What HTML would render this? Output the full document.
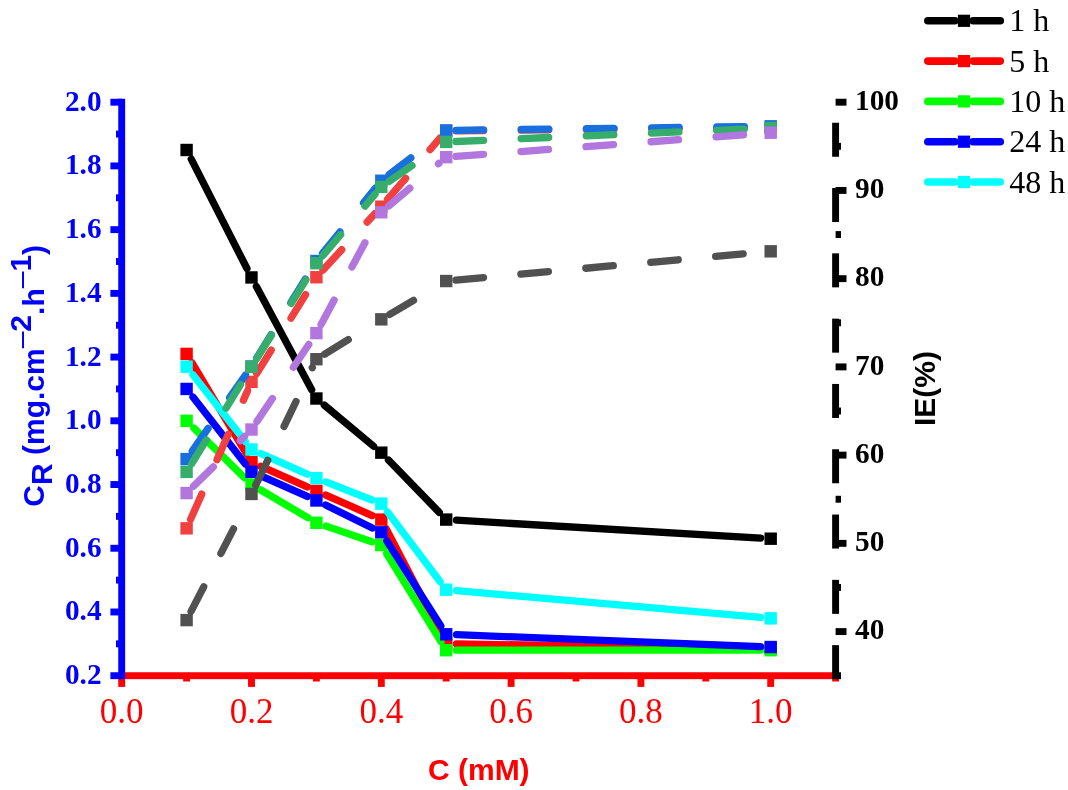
<!DOCTYPE html>
<html><head><meta charset="utf-8"><title>Chart</title>
<style>html,body{margin:0;padding:0;background:#fff;}svg{display:block;will-change:transform;}</style></head>
<body><svg width="1068" height="790" viewBox="0 0 1068 790">
<rect width="1068" height="790" fill="#ffffff"/>
<line x1="191.27" y1="159.17" x2="246.96" y2="268.53" stroke="#000000" stroke-width="7.3" stroke-linecap="round"/>
<line x1="256.37" y1="286.51" x2="311.68" y2="389.69" stroke="#000000" stroke-width="7.3" stroke-linecap="round"/>
<line x1="324.31" y1="405.11" x2="373.62" y2="446.26" stroke="#000000" stroke-width="7.3" stroke-linecap="round"/>
<line x1="388.47" y1="460.07" x2="439.24" y2="512.4" stroke="#000000" stroke-width="7.3" stroke-linecap="round"/>
<line x1="456.48" y1="520.19" x2="760.72" y2="538.11" stroke="#000000" stroke-width="7.3" stroke-linecap="round"/>
<rect x="180.4" y="143.79" width="12.4" height="12.4" fill="#000000"/>
<rect x="245.3" y="271.24" width="12.4" height="12.4" fill="#000000"/>
<rect x="310.2" y="392.31" width="12.4" height="12.4" fill="#000000"/>
<rect x="375.1" y="446.47" width="12.4" height="12.4" fill="#000000"/>
<rect x="440" y="513.38" width="12.4" height="12.4" fill="#000000"/>
<rect x="764.5" y="532.5" width="12.4" height="12.4" fill="#000000"/>
<line x1="191.89" y1="362.74" x2="246.36" y2="453.65" stroke="#ff0000" stroke-width="7.3" stroke-linecap="round"/>
<line x1="260.92" y1="466.39" x2="307.25" y2="486.86" stroke="#ff0000" stroke-width="7.3" stroke-linecap="round"/>
<line x1="325.82" y1="495.07" x2="372.15" y2="515.54" stroke="#ff0000" stroke-width="7.3" stroke-linecap="round"/>
<line x1="386.07" y1="528.71" x2="441.57" y2="634.98" stroke="#ff0000" stroke-width="7.3" stroke-linecap="round"/>
<line x1="456.5" y1="643.99" x2="760.7" y2="648.47" stroke="#ff0000" stroke-width="7.3" stroke-linecap="round"/>
<rect x="180.4" y="347.7" width="12.4" height="12.4" fill="#ff0000"/>
<rect x="245.3" y="456.03" width="12.4" height="12.4" fill="#ff0000"/>
<rect x="310.2" y="484.71" width="12.4" height="12.4" fill="#ff0000"/>
<rect x="375.1" y="513.38" width="12.4" height="12.4" fill="#ff0000"/>
<rect x="440" y="637.64" width="12.4" height="12.4" fill="#ff0000"/>
<rect x="764.5" y="642.42" width="12.4" height="12.4" fill="#ff0000"/>
<line x1="193.95" y1="428.03" x2="244.36" y2="477.53" stroke="#00ff00" stroke-width="7.3" stroke-linecap="round"/>
<line x1="260.37" y1="489.76" x2="307.78" y2="517.69" stroke="#00ff00" stroke-width="7.3" stroke-linecap="round"/>
<line x1="326.14" y1="526.11" x2="371.84" y2="541.82" stroke="#00ff00" stroke-width="7.3" stroke-linecap="round"/>
<line x1="386.71" y1="553.83" x2="440.95" y2="641.7" stroke="#00ff00" stroke-width="7.3" stroke-linecap="round"/>
<line x1="456.5" y1="650.21" x2="760.7" y2="650.21" stroke="#00ff00" stroke-width="7.3" stroke-linecap="round"/>
<rect x="180.4" y="414.61" width="12.4" height="12.4" fill="#00ff00"/>
<rect x="245.3" y="478.33" width="12.4" height="12.4" fill="#00ff00"/>
<rect x="310.2" y="516.57" width="12.4" height="12.4" fill="#00ff00"/>
<rect x="375.1" y="538.87" width="12.4" height="12.4" fill="#00ff00"/>
<rect x="440" y="644.01" width="12.4" height="12.4" fill="#00ff00"/>
<rect x="764.5" y="644.01" width="12.4" height="12.4" fill="#00ff00"/>
<line x1="192.95" y1="397.06" x2="245.33" y2="463.92" stroke="#0000ff" stroke-width="7.3" stroke-linecap="round"/>
<line x1="260.92" y1="475.95" x2="307.25" y2="496.42" stroke="#0000ff" stroke-width="7.3" stroke-linecap="round"/>
<line x1="325.65" y1="505" x2="372.32" y2="527.92" stroke="#0000ff" stroke-width="7.3" stroke-linecap="round"/>
<line x1="386.83" y1="541.01" x2="440.83" y2="625.84" stroke="#0000ff" stroke-width="7.3" stroke-linecap="round"/>
<line x1="456.49" y1="634.68" x2="760.71" y2="646.63" stroke="#0000ff" stroke-width="7.3" stroke-linecap="round"/>
<rect x="180.4" y="382.75" width="12.4" height="12.4" fill="#0000ff"/>
<rect x="245.3" y="465.59" width="12.4" height="12.4" fill="#0000ff"/>
<rect x="310.2" y="494.26" width="12.4" height="12.4" fill="#0000ff"/>
<rect x="375.1" y="526.12" width="12.4" height="12.4" fill="#0000ff"/>
<rect x="440" y="628.08" width="12.4" height="12.4" fill="#0000ff"/>
<rect x="764.5" y="640.83" width="12.4" height="12.4" fill="#0000ff"/>
<line x1="192.95" y1="374.76" x2="245.33" y2="441.61" stroke="#00ffff" stroke-width="7.3" stroke-linecap="round"/>
<line x1="260.92" y1="453.65" x2="307.25" y2="474.12" stroke="#00ffff" stroke-width="7.3" stroke-linecap="round"/>
<line x1="325.99" y1="481.93" x2="371.99" y2="499.99" stroke="#00ffff" stroke-width="7.3" stroke-linecap="round"/>
<line x1="387.5" y1="511.87" x2="440.18" y2="581.69" stroke="#00ffff" stroke-width="7.3" stroke-linecap="round"/>
<line x1="456.46" y1="590.58" x2="760.74" y2="617.47" stroke="#00ffff" stroke-width="7.3" stroke-linecap="round"/>
<rect x="180.4" y="360.45" width="12.4" height="12.4" fill="#00ffff"/>
<rect x="245.3" y="443.29" width="12.4" height="12.4" fill="#00ffff"/>
<rect x="310.2" y="471.96" width="12.4" height="12.4" fill="#00ffff"/>
<rect x="375.1" y="497.45" width="12.4" height="12.4" fill="#00ffff"/>
<rect x="440" y="583.48" width="12.4" height="12.4" fill="#00ffff"/>
<rect x="764.5" y="612.15" width="12.4" height="12.4" fill="#00ffff"/>
<line x1="191.08" y1="611.4" x2="203.71" y2="586.86" stroke="#515151" stroke-width="7.3" stroke-linecap="round"/>
<line x1="220.91" y1="553.42" x2="233.53" y2="528.88" stroke="#515151" stroke-width="7.3" stroke-linecap="round"/>
<line x1="255.75" y1="485.12" x2="267.73" y2="460.25" stroke="#515151" stroke-width="7.3" stroke-linecap="round"/>
<line x1="284.05" y1="426.38" x2="296.03" y2="401.51" stroke="#515151" stroke-width="7.3" stroke-linecap="round"/>
<line x1="312.34" y1="367.64" x2="312.35" y2="367.63" stroke="#515151" stroke-width="7.3" stroke-linecap="round"/>
<line x1="324.75" y1="354.09" x2="348.26" y2="339.64" stroke="#515151" stroke-width="7.3" stroke-linecap="round"/>
<line x1="389.74" y1="314.36" x2="413.51" y2="300.33" stroke="#515151" stroke-width="7.3" stroke-linecap="round"/>
<line x1="455.96" y1="280.15" x2="483.44" y2="277.63" stroke="#515151" stroke-width="7.3" stroke-linecap="round"/>
<line x1="520.89" y1="274.2" x2="548.37" y2="271.68" stroke="#515151" stroke-width="7.3" stroke-linecap="round"/>
<line x1="585.82" y1="268.25" x2="613.3" y2="265.73" stroke="#515151" stroke-width="7.3" stroke-linecap="round"/>
<line x1="650.74" y1="262.3" x2="678.23" y2="259.78" stroke="#515151" stroke-width="7.3" stroke-linecap="round"/>
<line x1="715.67" y1="256.35" x2="743.16" y2="253.83" stroke="#515151" stroke-width="7.3" stroke-linecap="round"/>
<rect x="180.4" y="613.91" width="12.4" height="12.4" fill="#515151"/>
<rect x="245.3" y="487.74" width="12.4" height="12.4" fill="#515151"/>
<rect x="310.2" y="353.02" width="12.4" height="12.4" fill="#515151"/>
<rect x="375.1" y="313.14" width="12.4" height="12.4" fill="#515151"/>
<rect x="440" y="274.84" width="12.4" height="12.4" fill="#515151"/>
<rect x="764.5" y="245.11" width="12.4" height="12.4" fill="#515151"/>
<line x1="190.57" y1="519.39" x2="201.75" y2="494.16" stroke="#F14040" stroke-width="7.3" stroke-linecap="round"/>
<line x1="216.98" y1="459.78" x2="228.17" y2="434.55" stroke="#F14040" stroke-width="7.3" stroke-linecap="round"/>
<line x1="243.4" y1="400.18" x2="247.61" y2="390.67" stroke="#F14040" stroke-width="7.3" stroke-linecap="round"/>
<line x1="256.67" y1="373.56" x2="271.21" y2="350.11" stroke="#F14040" stroke-width="7.3" stroke-linecap="round"/>
<line x1="291.03" y1="318.15" x2="305.58" y2="294.7" stroke="#F14040" stroke-width="7.3" stroke-linecap="round"/>
<line x1="323.03" y1="270.04" x2="341.71" y2="249.72" stroke="#F14040" stroke-width="7.3" stroke-linecap="round"/>
<line x1="367.16" y1="222.04" x2="374.8" y2="213.73" stroke="#F14040" stroke-width="7.3" stroke-linecap="round"/>
<line x1="387.67" y1="199.22" x2="405.63" y2="178.26" stroke="#F14040" stroke-width="7.3" stroke-linecap="round"/>
<line x1="430.08" y1="149.7" x2="439.96" y2="138.17" stroke="#F14040" stroke-width="7.3" stroke-linecap="round"/>
<line x1="456" y1="130.78" x2="483.6" y2="130.5" stroke="#F14040" stroke-width="7.3" stroke-linecap="round"/>
<line x1="521.2" y1="130.12" x2="548.79" y2="129.84" stroke="#F14040" stroke-width="7.3" stroke-linecap="round"/>
<line x1="586.39" y1="129.46" x2="613.99" y2="129.19" stroke="#F14040" stroke-width="7.3" stroke-linecap="round"/>
<line x1="651.59" y1="128.81" x2="679.19" y2="128.53" stroke="#F14040" stroke-width="7.3" stroke-linecap="round"/>
<line x1="716.79" y1="128.15" x2="744.38" y2="127.88" stroke="#F14040" stroke-width="7.3" stroke-linecap="round"/>
<rect x="180.4" y="522.15" width="12.4" height="12.4" fill="#F14040"/>
<rect x="245.3" y="375.69" width="12.4" height="12.4" fill="#F14040"/>
<rect x="310.2" y="271.05" width="12.4" height="12.4" fill="#F14040"/>
<rect x="375.1" y="200.47" width="12.4" height="12.4" fill="#F14040"/>
<rect x="440" y="124.68" width="12.4" height="12.4" fill="#F14040"/>
<rect x="764.5" y="121.41" width="12.4" height="12.4" fill="#F14040"/>
<line x1="192.22" y1="451.07" x2="208.06" y2="428.46" stroke="#1A6FDF" stroke-width="7.3" stroke-linecap="round"/>
<line x1="229.63" y1="397.67" x2="245.47" y2="375.06" stroke="#1A6FDF" stroke-width="7.3" stroke-linecap="round"/>
<line x1="256.64" y1="358.11" x2="271.1" y2="334.6" stroke="#1A6FDF" stroke-width="7.3" stroke-linecap="round"/>
<line x1="290.81" y1="302.58" x2="305.28" y2="279.08" stroke="#1A6FDF" stroke-width="7.3" stroke-linecap="round"/>
<line x1="322.56" y1="253.39" x2="339.91" y2="231.93" stroke="#1A6FDF" stroke-width="7.3" stroke-linecap="round"/>
<line x1="363.55" y1="202.69" x2="375.27" y2="188.19" stroke="#1A6FDF" stroke-width="7.3" stroke-linecap="round"/>
<line x1="389.05" y1="174.72" x2="410.86" y2="157.82" stroke="#1A6FDF" stroke-width="7.3" stroke-linecap="round"/>
<line x1="456" y1="130.31" x2="483.6" y2="129.96" stroke="#1A6FDF" stroke-width="7.3" stroke-linecap="round"/>
<line x1="521.19" y1="129.48" x2="548.79" y2="129.12" stroke="#1A6FDF" stroke-width="7.3" stroke-linecap="round"/>
<line x1="586.39" y1="128.64" x2="613.99" y2="128.29" stroke="#1A6FDF" stroke-width="7.3" stroke-linecap="round"/>
<line x1="651.58" y1="127.81" x2="679.18" y2="127.46" stroke="#1A6FDF" stroke-width="7.3" stroke-linecap="round"/>
<line x1="716.78" y1="126.98" x2="744.38" y2="126.62" stroke="#1A6FDF" stroke-width="7.3" stroke-linecap="round"/>
<rect x="180.4" y="452.89" width="12.4" height="12.4" fill="#1A6FDF"/>
<rect x="245.3" y="360.25" width="12.4" height="12.4" fill="#1A6FDF"/>
<rect x="310.2" y="254.82" width="12.4" height="12.4" fill="#1A6FDF"/>
<rect x="375.1" y="174.53" width="12.4" height="12.4" fill="#1A6FDF"/>
<rect x="440" y="124.23" width="12.4" height="12.4" fill="#1A6FDF"/>
<rect x="764.5" y="120.09" width="12.4" height="12.4" fill="#1A6FDF"/>
<line x1="191.75" y1="463.55" x2="206.26" y2="440.07" stroke="#37AD6B" stroke-width="7.3" stroke-linecap="round"/>
<line x1="226.03" y1="408.09" x2="240.55" y2="384.61" stroke="#37AD6B" stroke-width="7.3" stroke-linecap="round"/>
<line x1="256.7" y1="358.59" x2="271.35" y2="335.19" stroke="#37AD6B" stroke-width="7.3" stroke-linecap="round"/>
<line x1="291.3" y1="303.32" x2="305.94" y2="279.93" stroke="#37AD6B" stroke-width="7.3" stroke-linecap="round"/>
<line x1="322.75" y1="255.76" x2="340.63" y2="234.73" stroke="#37AD6B" stroke-width="7.3" stroke-linecap="round"/>
<line x1="364.99" y1="206.09" x2="375.08" y2="194.21" stroke="#37AD6B" stroke-width="7.3" stroke-linecap="round"/>
<line x1="389.35" y1="181.32" x2="412.04" y2="165.59" stroke="#37AD6B" stroke-width="7.3" stroke-linecap="round"/>
<line x1="455.99" y1="141.48" x2="483.57" y2="140.3" stroke="#37AD6B" stroke-width="7.3" stroke-linecap="round"/>
<line x1="521.13" y1="138.68" x2="548.71" y2="137.5" stroke="#37AD6B" stroke-width="7.3" stroke-linecap="round"/>
<line x1="586.27" y1="135.89" x2="613.85" y2="134.7" stroke="#37AD6B" stroke-width="7.3" stroke-linecap="round"/>
<line x1="651.41" y1="133.09" x2="678.99" y2="131.9" stroke="#37AD6B" stroke-width="7.3" stroke-linecap="round"/>
<line x1="716.55" y1="130.29" x2="744.13" y2="129.11" stroke="#37AD6B" stroke-width="7.3" stroke-linecap="round"/>
<rect x="180.4" y="465.69" width="12.4" height="12.4" fill="#37AD6B"/>
<rect x="245.3" y="360.69" width="12.4" height="12.4" fill="#37AD6B"/>
<rect x="310.2" y="257.02" width="12.4" height="12.4" fill="#37AD6B"/>
<rect x="375.1" y="180.7" width="12.4" height="12.4" fill="#37AD6B"/>
<rect x="440" y="135.7" width="12.4" height="12.4" fill="#37AD6B"/>
<rect x="764.5" y="121.76" width="12.4" height="12.4" fill="#37AD6B"/>
<line x1="193.6" y1="486.21" x2="213.33" y2="466.9" stroke="#B177DE" stroke-width="7.3" stroke-linecap="round"/>
<line x1="240.2" y1="440.6" x2="244.64" y2="436.25" stroke="#B177DE" stroke-width="7.3" stroke-linecap="round"/>
<line x1="256.97" y1="421.41" x2="272.38" y2="398.51" stroke="#B177DE" stroke-width="7.3" stroke-linecap="round"/>
<line x1="293.37" y1="367.31" x2="308.78" y2="344.42" stroke="#B177DE" stroke-width="7.3" stroke-linecap="round"/>
<line x1="321.04" y1="324.47" x2="334.1" y2="300.15" stroke="#B177DE" stroke-width="7.3" stroke-linecap="round"/>
<line x1="351.9" y1="267.03" x2="364.96" y2="242.72" stroke="#B177DE" stroke-width="7.3" stroke-linecap="round"/>
<line x1="388.77" y1="205.97" x2="409.8" y2="188.1" stroke="#B177DE" stroke-width="7.3" stroke-linecap="round"/>
<line x1="438.45" y1="163.75" x2="438.88" y2="163.38" stroke="#B177DE" stroke-width="7.3" stroke-linecap="round"/>
<line x1="455.97" y1="156.43" x2="483.49" y2="154.36" stroke="#B177DE" stroke-width="7.3" stroke-linecap="round"/>
<line x1="520.99" y1="151.54" x2="548.51" y2="149.46" stroke="#B177DE" stroke-width="7.3" stroke-linecap="round"/>
<line x1="586" y1="146.64" x2="613.53" y2="144.57" stroke="#B177DE" stroke-width="7.3" stroke-linecap="round"/>
<line x1="651.02" y1="141.74" x2="678.54" y2="139.67" stroke="#B177DE" stroke-width="7.3" stroke-linecap="round"/>
<line x1="716.04" y1="136.84" x2="743.56" y2="134.77" stroke="#B177DE" stroke-width="7.3" stroke-linecap="round"/>
<rect x="180.4" y="486.86" width="12.4" height="12.4" fill="#B177DE"/>
<rect x="245.3" y="423.34" width="12.4" height="12.4" fill="#B177DE"/>
<rect x="310.2" y="326.9" width="12.4" height="12.4" fill="#B177DE"/>
<rect x="375.1" y="206.11" width="12.4" height="12.4" fill="#B177DE"/>
<rect x="440" y="150.97" width="12.4" height="12.4" fill="#B177DE"/>
<rect x="764.5" y="126.53" width="12.4" height="12.4" fill="#B177DE"/>
<rect x="121.7" y="672.25" width="717.35" height="6.9" fill="#ff0000"/>
<rect x="118.25" y="675.7" width="6.9" height="11.2" fill="#ff0000"/>
<rect x="183.15" y="675.7" width="6.9" height="5.8" fill="#ff0000"/>
<rect x="248.05" y="675.7" width="6.9" height="11.2" fill="#ff0000"/>
<rect x="312.95" y="675.7" width="6.9" height="5.8" fill="#ff0000"/>
<rect x="377.85" y="675.7" width="6.9" height="11.2" fill="#ff0000"/>
<rect x="442.75" y="675.7" width="6.9" height="5.8" fill="#ff0000"/>
<rect x="507.65" y="675.7" width="6.9" height="11.2" fill="#ff0000"/>
<rect x="572.55" y="675.7" width="6.9" height="5.8" fill="#ff0000"/>
<rect x="637.45" y="675.7" width="6.9" height="11.2" fill="#ff0000"/>
<rect x="702.35" y="675.7" width="6.9" height="5.8" fill="#ff0000"/>
<rect x="767.25" y="675.7" width="6.9" height="11.2" fill="#ff0000"/>
<rect x="832.15" y="675.7" width="6.9" height="5.8" fill="#ff0000"/>
<rect x="118.25" y="98.75" width="6.9" height="580.4" fill="#0000ff"/>
<rect x="110.4" y="672.25" width="11.3" height="6.9" fill="#0000ff"/>
<rect x="116" y="640.39" width="5.7" height="6.9" fill="#0000ff"/>
<rect x="110.4" y="608.53" width="11.3" height="6.9" fill="#0000ff"/>
<rect x="116" y="576.67" width="5.7" height="6.9" fill="#0000ff"/>
<rect x="110.4" y="544.81" width="11.3" height="6.9" fill="#0000ff"/>
<rect x="116" y="512.94" width="5.7" height="6.9" fill="#0000ff"/>
<rect x="110.4" y="481.08" width="11.3" height="6.9" fill="#0000ff"/>
<rect x="116" y="449.22" width="5.7" height="6.9" fill="#0000ff"/>
<rect x="110.4" y="417.36" width="11.3" height="6.9" fill="#0000ff"/>
<rect x="116" y="385.5" width="5.7" height="6.9" fill="#0000ff"/>
<rect x="110.4" y="353.64" width="11.3" height="6.9" fill="#0000ff"/>
<rect x="116" y="321.78" width="5.7" height="6.9" fill="#0000ff"/>
<rect x="110.4" y="289.92" width="11.3" height="6.9" fill="#0000ff"/>
<rect x="116" y="258.06" width="5.7" height="6.9" fill="#0000ff"/>
<rect x="110.4" y="226.19" width="11.3" height="6.9" fill="#0000ff"/>
<rect x="116" y="194.33" width="5.7" height="6.9" fill="#0000ff"/>
<rect x="110.4" y="162.47" width="11.3" height="6.9" fill="#0000ff"/>
<rect x="116" y="130.61" width="5.7" height="6.9" fill="#0000ff"/>
<rect x="110.4" y="98.75" width="11.3" height="6.9" fill="#0000ff"/>
<rect x="832.15" y="645.15" width="6.9" height="34" fill="#000000"/>
<rect x="832.15" y="579.85" width="6.9" height="34" fill="#000000"/>
<rect x="832.15" y="514.55" width="6.9" height="34" fill="#000000"/>
<rect x="832.15" y="449.25" width="6.9" height="34" fill="#000000"/>
<rect x="832.15" y="383.95" width="6.9" height="34" fill="#000000"/>
<rect x="832.15" y="318.65" width="6.9" height="34" fill="#000000"/>
<rect x="832.15" y="253.35" width="6.9" height="34" fill="#000000"/>
<rect x="832.15" y="188.05" width="6.9" height="34" fill="#000000"/>
<rect x="832.15" y="122.75" width="6.9" height="34" fill="#000000"/>
<rect x="835.6" y="672.25" width="5.4" height="6.9" fill="#000000"/>
<rect x="835.6" y="628.13" width="10.9" height="6.9" fill="#000000"/>
<rect x="835.6" y="584.02" width="5.4" height="6.9" fill="#000000"/>
<rect x="835.6" y="539.9" width="10.9" height="6.9" fill="#000000"/>
<rect x="835.6" y="495.79" width="5.4" height="6.9" fill="#000000"/>
<rect x="835.6" y="451.67" width="10.9" height="6.9" fill="#000000"/>
<rect x="835.6" y="407.56" width="5.4" height="6.9" fill="#000000"/>
<rect x="835.6" y="363.44" width="10.9" height="6.9" fill="#000000"/>
<rect x="835.6" y="319.33" width="5.4" height="6.9" fill="#000000"/>
<rect x="835.6" y="275.21" width="10.9" height="6.9" fill="#000000"/>
<rect x="835.6" y="231.1" width="5.4" height="6.9" fill="#000000"/>
<rect x="835.6" y="186.98" width="10.9" height="6.9" fill="#000000"/>
<rect x="835.6" y="142.87" width="5.4" height="6.9" fill="#000000"/>
<rect x="835.6" y="98.75" width="10.9" height="6.9" fill="#000000"/>
<text x="101.6" y="684.2" text-anchor="end" font-family="Liberation Serif, Times New Roman, serif" font-weight="bold" font-size="29.3" fill="#0000ff">0.2</text>
<text x="101.6" y="620.48" text-anchor="end" font-family="Liberation Serif, Times New Roman, serif" font-weight="bold" font-size="29.3" fill="#0000ff">0.4</text>
<text x="101.6" y="556.76" text-anchor="end" font-family="Liberation Serif, Times New Roman, serif" font-weight="bold" font-size="29.3" fill="#0000ff">0.6</text>
<text x="101.6" y="493.03" text-anchor="end" font-family="Liberation Serif, Times New Roman, serif" font-weight="bold" font-size="29.3" fill="#0000ff">0.8</text>
<text x="101.6" y="429.31" text-anchor="end" font-family="Liberation Serif, Times New Roman, serif" font-weight="bold" font-size="29.3" fill="#0000ff">1.0</text>
<text x="101.6" y="365.59" text-anchor="end" font-family="Liberation Serif, Times New Roman, serif" font-weight="bold" font-size="29.3" fill="#0000ff">1.2</text>
<text x="101.6" y="301.87" text-anchor="end" font-family="Liberation Serif, Times New Roman, serif" font-weight="bold" font-size="29.3" fill="#0000ff">1.4</text>
<text x="101.6" y="238.14" text-anchor="end" font-family="Liberation Serif, Times New Roman, serif" font-weight="bold" font-size="29.3" fill="#0000ff">1.6</text>
<text x="101.6" y="174.42" text-anchor="end" font-family="Liberation Serif, Times New Roman, serif" font-weight="bold" font-size="29.3" fill="#0000ff">1.8</text>
<text x="101.6" y="110.7" text-anchor="end" font-family="Liberation Serif, Times New Roman, serif" font-weight="bold" font-size="29.3" fill="#0000ff">2.0</text>
<text x="855" y="639.28" font-family="Liberation Serif, Times New Roman, serif" font-weight="bold" font-size="29.3" fill="#000000">40</text>
<text x="855" y="551.05" font-family="Liberation Serif, Times New Roman, serif" font-weight="bold" font-size="29.3" fill="#000000">50</text>
<text x="855" y="462.82" font-family="Liberation Serif, Times New Roman, serif" font-weight="bold" font-size="29.3" fill="#000000">60</text>
<text x="855" y="374.59" font-family="Liberation Serif, Times New Roman, serif" font-weight="bold" font-size="29.3" fill="#000000">70</text>
<text x="855" y="286.36" font-family="Liberation Serif, Times New Roman, serif" font-weight="bold" font-size="29.3" fill="#000000">80</text>
<text x="855" y="198.13" font-family="Liberation Serif, Times New Roman, serif" font-weight="bold" font-size="29.3" fill="#000000">90</text>
<text x="855" y="109.9" font-family="Liberation Serif, Times New Roman, serif" font-weight="bold" font-size="29.3" fill="#000000">100</text>
<text x="121.7" y="723" text-anchor="middle" font-family="Liberation Serif, Times New Roman, serif" font-size="35" fill="#ff0000">0.0</text>
<text x="251.5" y="723" text-anchor="middle" font-family="Liberation Serif, Times New Roman, serif" font-size="35" fill="#ff0000">0.2</text>
<text x="381.3" y="723" text-anchor="middle" font-family="Liberation Serif, Times New Roman, serif" font-size="35" fill="#ff0000">0.4</text>
<text x="511.1" y="723" text-anchor="middle" font-family="Liberation Serif, Times New Roman, serif" font-size="35" fill="#ff0000">0.6</text>
<text x="640.9" y="723" text-anchor="middle" font-family="Liberation Serif, Times New Roman, serif" font-size="35" fill="#ff0000">0.8</text>
<text x="770.7" y="723" text-anchor="middle" font-family="Liberation Serif, Times New Roman, serif" font-size="35" fill="#ff0000">1.0</text>
<text x="478.8" y="779.6" text-anchor="middle" font-family="Liberation Sans, Arial, sans-serif" font-weight="bold" font-size="30" fill="#ff0000">C (mM)</text>
<text transform="translate(935,426.1) rotate(-90)" font-family="Liberation Sans, Arial, sans-serif" font-weight="bold" font-size="30" fill="#000000">IE(%)</text>
<text transform="translate(43.9,506.7) rotate(-90)" font-family="Liberation Sans, Arial, sans-serif" font-weight="bold" font-size="30" fill="#0000ff">C<tspan dy="8.2">R</tspan><tspan dy="-8.2"> (mg.cm</tspan><tspan dy="-13.4" font-weight="normal">–</tspan><tspan>2</tspan><tspan dy="13.4">.h</tspan><tspan dy="-13.4" font-weight="normal">–</tspan><tspan>1</tspan><tspan dy="13.4">)</tspan></text>
<line x1="927.8" y1="20.8" x2="954.9" y2="20.8" stroke="#000000" stroke-width="7.6" stroke-linecap="round"/>
<line x1="973.1" y1="20.8" x2="1000.3" y2="20.8" stroke="#000000" stroke-width="7.6" stroke-linecap="round"/>
<rect x="957.9" y="14.7" width="12.2" height="12.2" fill="#000000"/>
<text x="1009.3" y="31.4" font-family="Liberation Serif, Times New Roman, serif" font-size="32" fill="#000000">1 h</text>
<line x1="927.8" y1="61.1" x2="954.9" y2="61.1" stroke="#ff0000" stroke-width="7.6" stroke-linecap="round"/>
<line x1="973.1" y1="61.1" x2="1000.3" y2="61.1" stroke="#ff0000" stroke-width="7.6" stroke-linecap="round"/>
<rect x="957.9" y="55" width="12.2" height="12.2" fill="#ff0000"/>
<text x="1009.3" y="71.7" font-family="Liberation Serif, Times New Roman, serif" font-size="32" fill="#000000">5 h</text>
<line x1="927.8" y1="101.4" x2="954.9" y2="101.4" stroke="#00ff00" stroke-width="7.6" stroke-linecap="round"/>
<line x1="973.1" y1="101.4" x2="1000.3" y2="101.4" stroke="#00ff00" stroke-width="7.6" stroke-linecap="round"/>
<rect x="957.9" y="95.3" width="12.2" height="12.2" fill="#00ff00"/>
<text x="1009.3" y="112" font-family="Liberation Serif, Times New Roman, serif" font-size="32" fill="#000000">10 h</text>
<line x1="927.8" y1="141.7" x2="954.9" y2="141.7" stroke="#0000ff" stroke-width="7.6" stroke-linecap="round"/>
<line x1="973.1" y1="141.7" x2="1000.3" y2="141.7" stroke="#0000ff" stroke-width="7.6" stroke-linecap="round"/>
<rect x="957.9" y="135.6" width="12.2" height="12.2" fill="#0000ff"/>
<text x="1009.3" y="152.3" font-family="Liberation Serif, Times New Roman, serif" font-size="32" fill="#000000">24 h</text>
<line x1="927.8" y1="182" x2="954.9" y2="182" stroke="#00ffff" stroke-width="7.6" stroke-linecap="round"/>
<line x1="973.1" y1="182" x2="1000.3" y2="182" stroke="#00ffff" stroke-width="7.6" stroke-linecap="round"/>
<rect x="957.9" y="175.9" width="12.2" height="12.2" fill="#00ffff"/>
<text x="1009.3" y="192.6" font-family="Liberation Serif, Times New Roman, serif" font-size="32" fill="#000000">48 h</text>
</svg></body></html>
